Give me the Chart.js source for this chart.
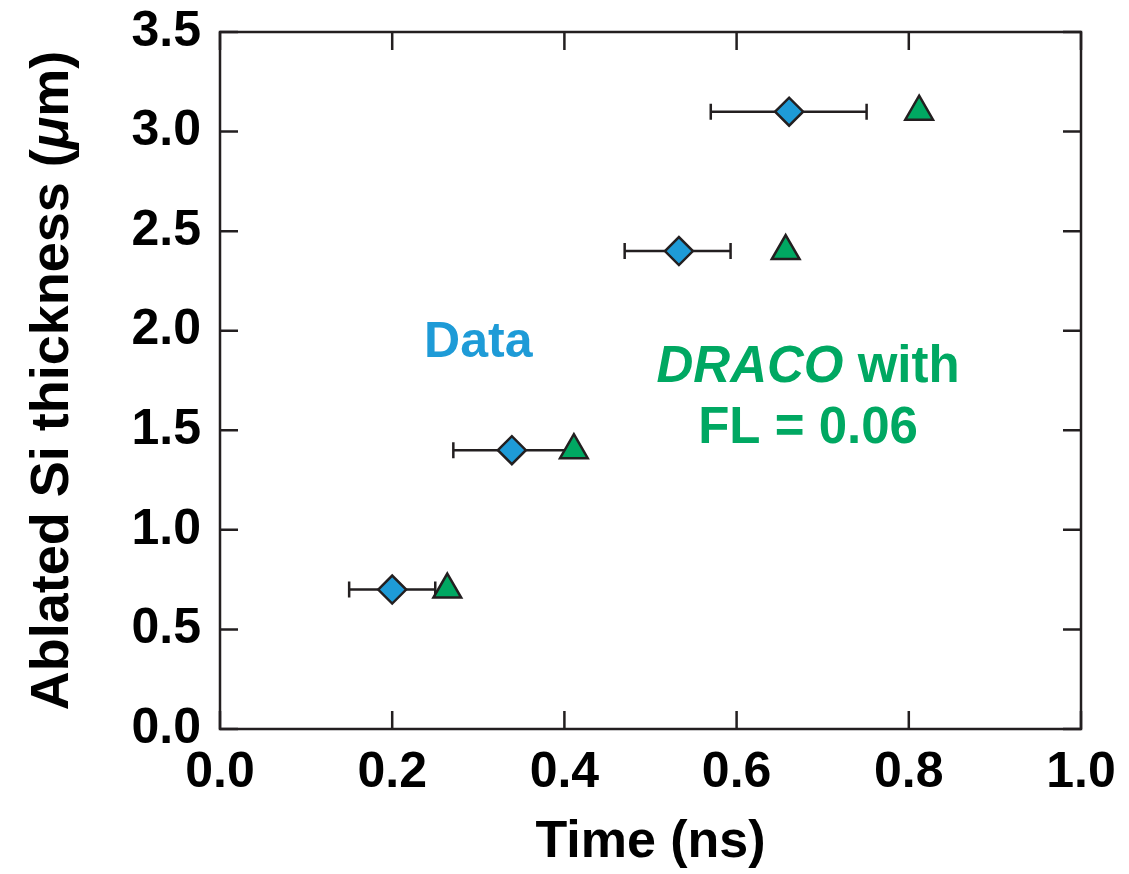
<!DOCTYPE html>
<html>
<head>
<meta charset="utf-8">
<script src="https://cdn.jsdelivr.net/npm/chart.js@4"></script>
<style>
  body { margin: 0; background: #fff; }
  #wrap { width: 1129px; height: 874px; }
</style>
</head>
<body>
<div id="wrap"><canvas id="myChart" width="1129" height="874"></canvas></div>
<script>
// measured points
const dataTime = [0.200, 0.339, 0.533, 0.661];
const dataThickness = [0.70, 1.40, 2.40, 3.10];
const dataTimeLow = [0.150, 0.271, 0.470, 0.570];
const dataTimeHigh = [0.250, 0.407, 0.593, 0.751];
const dracoTime = [0.264, 0.411, 0.657, 0.812];
const dracoThickness = [0.70, 1.40, 2.40, 3.10];
const xTicks = [0.0, 0.2, 0.4, 0.6, 0.8, 1.0];
const yTicks = [0.0, 0.5, 1.0, 1.5, 2.0, 2.5, 3.0, 3.5];

const ink = '#231f20';
const blue = '#1e9bd7';
const green = '#00a862';
const FONT = '"Liberation Sans", Arial, Helvetica, sans-serif';

// error bars + frame with inward ticks on all four sides
const frame = {
    id: 'frame',
    beforeDatasetsDraw(chart) {
        const {ctx, chartArea: a, scales: {x, y}} = chart;
        ctx.save();
        ctx.strokeStyle = ink;
        ctx.lineWidth = 2.5;
        ctx.strokeRect(a.left, a.top, a.width, a.height);
        ctx.beginPath();
        xTicks.forEach(v => {
            const px = x.getPixelForValue(v);
            ctx.moveTo(px, a.bottom); ctx.lineTo(px, a.bottom - 18);
            ctx.moveTo(px, a.top); ctx.lineTo(px, a.top + 18);
        });
        yTicks.forEach(v => {
            const py = y.getPixelForValue(v);
            ctx.moveTo(a.left, py); ctx.lineTo(a.left + 18, py);
            ctx.moveTo(a.right, py); ctx.lineTo(a.right - 18, py);
        });
        ctx.stroke();

        // horizontal error bars
        ctx.lineWidth = 2.5;
        ctx.beginPath();
        dataThickness.forEach((v, i) => {
            const py = y.getPixelForValue(v);
            const x0 = x.getPixelForValue(dataTimeLow[i]);
            const x1 = x.getPixelForValue(dataTimeHigh[i]);
            ctx.moveTo(x0, py); ctx.lineTo(x1, py);
            ctx.moveTo(x0, py - 8); ctx.lineTo(x0, py + 8);
            ctx.moveTo(x1, py - 8); ctx.lineTo(x1, py + 8);
        });
        ctx.stroke();
        ctx.restore();
    },
    afterDraw(chart) {
        const {ctx, chartArea: a, scales: {x, y}} = chart;
        ctx.save();
        ctx.textBaseline = 'alphabetic';

        // y axis title with italic mu
        const parts = [
            ['bold 54px ' + FONT, 'Ablated Si thickness ('],
            ['italic bold 54px ' + FONT, 'μ'],
            ['bold 54px ' + FONT, 'm)']
        ];
        let total = 0;
        parts.forEach(p => { ctx.font = p[0]; total += ctx.measureText(p[1]).width; });
        ctx.translate(68, (a.top + a.bottom) / 2);
        ctx.rotate(-Math.PI / 2);
        ctx.fillStyle = '#000';
        let cx = -total / 2;
        parts.forEach(p => {
            ctx.font = p[0];
            ctx.fillText(p[1], cx, 0);
            cx += ctx.measureText(p[1]).width;
        });
        ctx.setTransform(1, 0, 0, 1, 0, 0);

        // annotations
        ctx.textAlign = 'center';
        ctx.font = 'bold 50px ' + FONT;
        ctx.fillStyle = blue;
        ctx.fillText('Data', x.getPixelForValue(0.30), y.getPixelForValue(1.868));

        ctx.fillStyle = green;
        ctx.textAlign = 'left';
        const l1 = [['italic bold 51px ' + FONT, 'DRACO'], ['bold 51px ' + FONT, ' with']];
        let w = 0;
        l1.forEach(p => { ctx.font = p[0]; w += ctx.measureText(p[1]).width; });
        let lx = x.getPixelForValue(0.683) - w / 2;
        const ly = y.getPixelForValue(1.743);
        l1.forEach(p => {
            ctx.font = p[0];
            ctx.fillText(p[1], lx, ly);
            lx += ctx.measureText(p[1]).width;
        });
        ctx.textAlign = 'center';
        ctx.font = 'bold 51px ' + FONT;
        ctx.fillText('FL = 0.06', x.getPixelForValue(0.683), y.getPixelForValue(1.436));
        ctx.restore();
    }
};

const data = {
    datasets: [{
        label: 'Data',
        data: dataTime.map((t, i) => ({x: t, y: dataThickness[i]})),
        pointStyle: 'rectRot',
        pointRadius: 14,
        backgroundColor: blue,
        borderColor: ink,
        borderWidth: 2.5,
        order: 2
    }, {
        label: 'DRACO with FL = 0.06',
        data: dracoTime.map((t, i) => ({x: t, y: dracoThickness[i]})),
        pointStyle: 'triangle',
        pointRadius: 16,
        backgroundColor: green,
        borderColor: ink,
        borderWidth: 2.5,
        order: 1
    }]
};

const tickFont = {family: FONT, size: 50, weight: 'bold'};

const config = {
    type: 'scatter',
    data,
    options: {
        responsive: false,
        animation: false,
        layout: {padding: {top: 32, right: 48, left: 0, bottom: 0}},
        plugins: {legend: {display: false}, tooltip: {enabled: false}},
        scales: {
            x: {
                min: 0, max: 1,
                afterFit: s => { s.height = 145; s.paddingLeft = 0; s.paddingRight = 0; },
                afterBuildTicks: s => { s.ticks = xTicks.map(v => ({value: v})); },
                grid: {display: false, drawTicks: false},
                border: {display: false},
                ticks: {
                    color: '#000', font: tickFont, padding: 14,
                    callback: v => Number(v).toFixed(1)
                },
                title: {
                    display: true, text: 'Time (ns)', color: '#000',
                    font: {family: FONT, size: 52, weight: 'bold', lineHeight: 1.2},
                    padding: {top: 0, bottom: 0}
                }
            },
            y: {
                min: 0, max: 3.5,
                afterFit: s => { s.width = 220; s.paddingTop = 0; s.paddingBottom = 0; },
                afterBuildTicks: s => { s.ticks = yTicks.map(v => ({value: v})); },
                grid: {display: false, drawTicks: false},
                border: {display: false},
                ticks: {
                    color: '#000', font: tickFont, padding: 19,
                    callback: v => Number(v).toFixed(1)
                }
            }
        }
    },
    plugins: [frame]
};

window.myChart = new Chart(document.getElementById('myChart'), config);
</script>
</body>
</html>
